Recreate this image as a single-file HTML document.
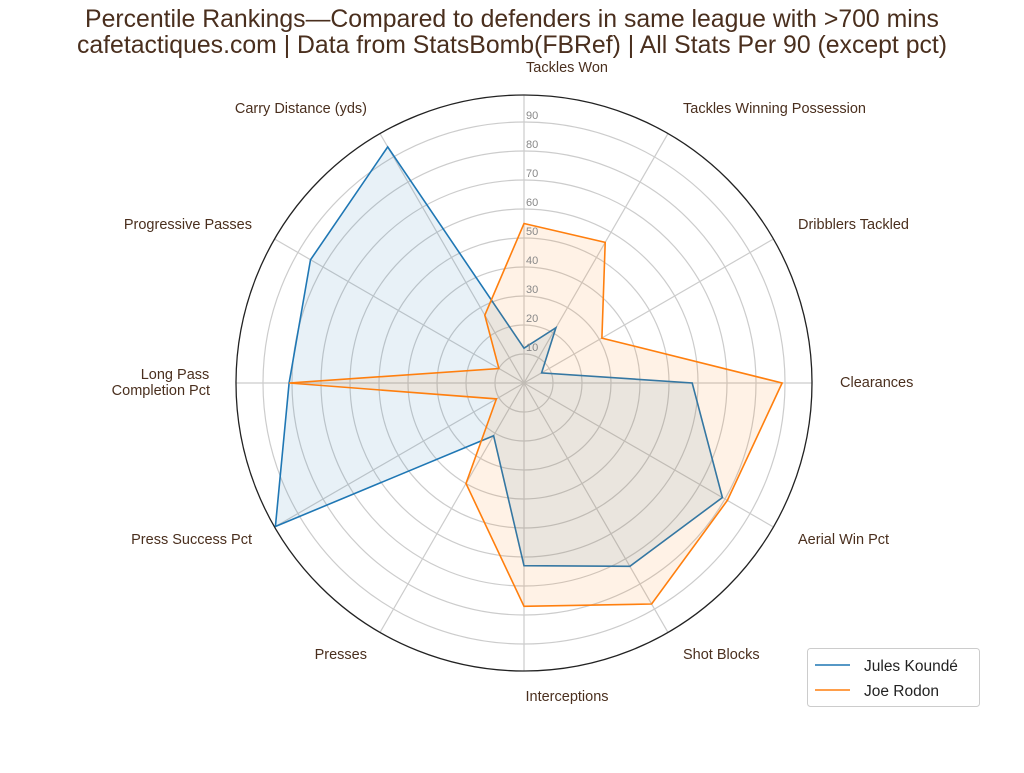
<!DOCTYPE html>
<html><head><meta charset="utf-8"><style>
body{margin:0;background:#fff;width:1024px;height:768px;overflow:hidden}
svg{font-family:"Liberation Sans","DejaVu Sans",sans-serif}
.l{font-size:14.5px;fill:#4a2f1e}
.t{font-size:11px;fill:#888}
</style></head><body>
<svg id="s" width="1024" height="768" xmlns="http://www.w3.org/2000/svg">
<g id="grid"></g>
<polygon id="pb" fill="#1f77b4" fill-opacity="0.1" stroke="#1f77b4" stroke-width="1.6"/>
<polygon id="po" fill="#ff7f0e" fill-opacity="0.1" stroke="#ff7f0e" stroke-width="1.6"/>
<circle cx="524" cy="383" r="288" fill="none" stroke="#222" stroke-width="1.3"/>
<text x="512" y="27" text-anchor="middle" style="font-size:24.8px;fill:#4a2f1e">Percentile Rankings—Compared to defenders in same league with &gt;700 mins</text>
<text x="512" y="53" text-anchor="middle" style="font-size:24.8px;fill:#4a2f1e">cafetactiques.com | Data from StatsBomb(FBRef) | All Stats Per 90 (except pct)</text>
<text class="t" x="526" y="119">90</text><text class="t" x="526" y="148">80</text><text class="t" x="526" y="177">70</text>
<text class="t" x="526" y="206">60</text><text class="t" x="526" y="235">50</text><text class="t" x="526" y="264">40</text>
<text class="t" x="526" y="293">30</text><text class="t" x="526" y="322">20</text><text class="t" x="526" y="351">10</text>
<text class="l" x="567" y="72" text-anchor="middle">Tackles Won</text>
<text class="l" x="683" y="113">Tackles Winning Possession</text>
<text class="l" x="798" y="229">Dribblers Tackled</text>
<text class="l" x="840" y="387">Clearances</text>
<text class="l" x="798" y="544">Aerial Win Pct</text>
<text class="l" x="683" y="659">Shot Blocks</text>
<text class="l" x="567" y="701" text-anchor="middle">Interceptions</text>
<text class="l" x="367" y="659" text-anchor="end">Presses</text>
<text class="l" x="252" y="544" text-anchor="end">Press Success Pct</text>
<text class="l" x="175" y="379" text-anchor="middle">Long Pass</text>
<text class="l" x="210" y="395" text-anchor="end">Completion Pct</text>
<text class="l" x="252" y="229" text-anchor="end">Progressive Passes</text>
<text class="l" x="367" y="113" text-anchor="end">Carry Distance (yds)</text>
<rect x="807.5" y="648.5" width="172" height="58" rx="3" fill="#fff" stroke="#ccc"/>
<line x1="815" y1="665" x2="850" y2="665" stroke="#1f77b4" stroke-width="1.6"/>
<line x1="815" y1="690" x2="850" y2="690" stroke="#ff7f0e" stroke-width="1.6"/>
<text x="864" y="671" style="font-size:15.5px;fill:#222">Jules Koundé</text>
<text x="864" y="696" style="font-size:15.5px;fill:#222">Joe Rodon</text>
</svg>
<script>
var cx=524,cy=383,R=288,g=document.getElementById('grid'),h='';
for(var i=1;i<10;i++)h+='<circle cx="'+cx+'" cy="'+cy+'" r="'+(290*i/10)+'" fill="none" stroke="#ccc" stroke-width="1.2"/>';
for(var k=0;k<12;k++){var a=(90-30*k)*Math.PI/180;h+='<line x1="'+cx+'" y1="'+cy+'" x2="'+(cx+R*Math.cos(a))+'" y2="'+(cy-R*Math.sin(a))+'" stroke="#ccc" stroke-width="1.2"/>';}
g.innerHTML=h;
function pts(v){return v.map(function(x,k){var a=(90-30*k)*Math.PI/180;return (cx+290*x/100*Math.cos(a)).toFixed(1)+','+(cy-290*x/100*Math.sin(a)).toFixed(1)}).join(' ')}
document.getElementById('pb').setAttribute('points',pts([12,22,7,58,79,73,63,21,99,81,85,94]));
document.getElementById('po').setAttribute('points',pts([55,56,31,89,81,88,77,40,11,81,10,27]));
</script>
</body></html>
